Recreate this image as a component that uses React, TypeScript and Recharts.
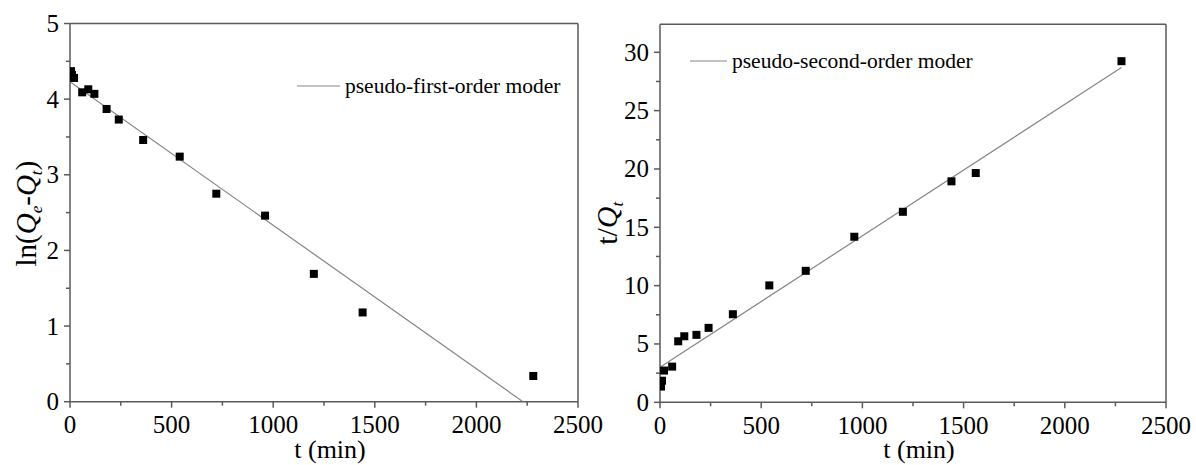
import React from 'react';
import { ScatterChart, Scatter, XAxis, YAxis, ReferenceLine, Label } from 'recharts';

const FONT = '"Liberation Serif", "Times New Roman", Times, serif';
const AXIS = '#5a5a5a';
const FIT = '#858585';

const timeTicks = [0, 250, 500, 750, 1000, 1250, 1500, 1750, 2000, 2250, 2500];
const firstOrderTicks = [0, 0.5, 1, 1.5, 2, 2.5, 3, 3.5, 4, 4.5, 5];
const secondOrderTicks = [0, 2.5, 5, 7.5, 10, 12.5, 15, 17.5, 20, 22.5, 25, 27.5, 30];

const firstOrderT = [5, 10, 20, 60, 90, 120, 180, 240, 360, 540, 720, 960, 1200, 1440, 2280];
const firstOrderLn = [4.37, 4.32, 4.28, 4.09, 4.13, 4.07, 3.87, 3.73, 3.46, 3.24, 2.75, 2.46, 1.69, 1.18, 0.34];
const firstFitT = [0, 2229];
const firstFitLn = [4.23, 0];

const secondOrderT = [5, 10, 20, 60, 90, 120, 180, 240, 360, 540, 720, 960, 1200, 1440, 1560, 2280];
const secondOrderTQ = [1.35, 1.85, 2.72, 3.06, 5.23, 5.66, 5.78, 6.38, 7.55, 10.02, 11.27, 14.19, 16.33, 18.94, 19.65, 29.24];
const secondFitT = [0, 2280];
const secondFitTQ = [3.0, 28.7];

const zip = (xs: number[], ys: number[]) => xs.map((x, i) => ({ x, y: ys[i] }));

const firstPoints = zip(firstOrderT, firstOrderLn);
const firstFit = zip(firstFitT, firstFitLn);
const secondPoints = zip(secondOrderT, secondOrderTQ);
const secondFit = zip(secondFitT, secondFitTQ);

const Square = (props: any) => {
  const { cx, cy } = props;
  if (cx == null || cy == null) return <g />;
  return <rect x={cx - 4} y={cy - 4} width={8} height={8} fill="#000" />;
};

const NoShape = () => <g />;

const makeXTick = (majorStep: number) => (props: any) => {
  const { x, y, payload } = props;
  const v = payload.value;
  const major = Math.abs(v / majorStep - Math.round(v / majorStep)) < 1e-6;
  return (
    <g>
      <line x1={x} y1={y} x2={x} y2={y + (major ? 6 : 4)} stroke={AXIS} strokeWidth={1.5} />
      {major && (
        <text x={x} y={y + 31.5} textAnchor="middle" fontSize={25} fontFamily={FONT} fill="#000">
          {v}
        </text>
      )}
    </g>
  );
};

const makeYTick = (majorStep: number) => (props: any) => {
  const { x, y, payload } = props;
  const v = payload.value;
  const major = Math.abs(v / majorStep - Math.round(v / majorStep)) < 1e-6;
  return (
    <g>
      <line x1={x} y1={y} x2={x - (major ? 6 : 4)} y2={y} stroke={AXIS} strokeWidth={1.5} />
      {major && (
        <text x={x - 11} y={y} dy="0.34em" textAnchor="end" fontSize={25} fontFamily={FONT} fill="#000">
          {v}
        </text>
      )}
    </g>
  );
};

const XTitle = (props: any) => {
  const vb = props.viewBox || {};
  const cx = vb.x + vb.width / 2 + 6;
  return (
    <text x={cx} y={vb.y + 56} textAnchor="middle" fontSize={26} fontFamily={FONT} fill="#000">
      t (min)
    </text>
  );
};

const LnTitle = (props: any) => {
  const vb = props.viewBox || {};
  const bx = 36;
  const cy = vb.y + vb.height / 2 + 1;
  return (
    <text
      x={bx}
      y={cy}
      transform={`rotate(-90 ${bx} ${cy})`}
      textAnchor="middle"
      fontSize={29}
      fontFamily={FONT}
      fill="#000"
    >
      ln(
      <tspan fontStyle="italic">Q</tspan>
      <tspan fontStyle="italic" fontSize={17} dy={6}>e</tspan>
      <tspan dy={-6}>-</tspan>
      <tspan fontStyle="italic">Q</tspan>
      <tspan fontStyle="italic" fontSize={17} dy={6}>t</tspan>
      <tspan dy={-6}>)</tspan>
    </text>
  );
};

const TQTitle = (props: any) => {
  const vb = props.viewBox || {};
  const bx = 27;
  const cy = vb.y + vb.height / 2 + 10;
  return (
    <text
      x={bx}
      y={cy}
      transform={`rotate(-90 ${bx} ${cy})`}
      textAnchor="middle"
      fontSize={30}
      fontFamily={FONT}
      fill="#000"
    >
      t/
      <tspan fontStyle="italic">Q</tspan>
      <tspan fontStyle="italic" fontSize={17} dy={6}>t</tspan>
    </text>
  );
};

const LegendItem = ({ left, top, lineWidth, text }: { left: number; top: number; lineWidth: number; text: string }) => (
  <div
    style={{
      position: 'absolute',
      left,
      top,
      display: 'flex',
      alignItems: 'center',
      fontFamily: FONT,
      fontSize: 21.5,
      lineHeight: '24px',
      color: '#000',
      whiteSpace: 'nowrap',
    }}
  >
    <svg width={lineWidth} height={4} style={{ marginRight: 5 }}>
      <line x1={0} y1={2} x2={lineWidth} y2={2} stroke={FIT} strokeWidth={1.2} />
    </svg>
    <span>{text}</span>
  </div>
);

export default function App() {
  return (
    <div style={{ position: 'absolute', left: 0, top: 0, width: 1196, height: 465, background: '#fff' }}>
      <div style={{ position: 'absolute', left: 0, top: 0, width: 620, height: 465 }}>
        <ScatterChart
          width={620}
          height={465}
          margin={{ top: 23.5, right: 42, bottom: 23.3, left: 10 }}
          style={{ overflow: 'visible' }}
        >
          <XAxis
            type="number"
            dataKey="x"
            domain={[0, 2500]}
            ticks={timeTicks}
            interval={0}
            allowDataOverflow
            height={40}
            tickSize={0}
            tickMargin={0}
            tickLine={false}
            axisLine={{ stroke: AXIS, strokeWidth: 1.5 }}
            tick={makeXTick(500)}
          >
            <Label content={XTitle} />
          </XAxis>
          <YAxis
            type="number"
            dataKey="y"
            domain={[0, 5]}
            ticks={firstOrderTicks}
            interval={0}
            allowDataOverflow
            width={60}
            tickSize={0}
            tickMargin={0}
            tickLine={false}
            axisLine={{ stroke: AXIS, strokeWidth: 1.5 }}
            tick={makeYTick(1)}
          >
            <Label content={LnTitle} />
          </YAxis>
          <ReferenceLine y={5} stroke={AXIS} strokeWidth={1.5} />
          <ReferenceLine x={2500} stroke={AXIS} strokeWidth={1.5} />
          <Scatter
            data={firstFit}
            line={{ stroke: FIT, strokeWidth: 1.2 }}
            shape={NoShape}
            isAnimationActive={false}
            legendType="none"
          />
          <Scatter data={firstPoints} shape={Square} isAnimationActive={false} />
        </ScatterChart>
        <LegendItem left={297} top={74} lineWidth={43} text="pseudo-first-order moder" />
      </div>
      <div style={{ position: 'absolute', left: 590, top: 0, width: 606, height: 465 }}>
        <ScatterChart
          width={606}
          height={465}
          margin={{ top: 24.3, right: 30, bottom: 22.7, left: 10 }}
          style={{ overflow: 'visible' }}
        >
          <XAxis
            type="number"
            dataKey="x"
            domain={[0, 2500]}
            ticks={timeTicks}
            interval={0}
            allowDataOverflow
            height={40}
            tickSize={0}
            tickMargin={0}
            tickLine={false}
            axisLine={{ stroke: AXIS, strokeWidth: 1.5 }}
            tick={makeXTick(500)}
          >
            <Label content={XTitle} />
          </XAxis>
          <YAxis
            type="number"
            dataKey="y"
            domain={[0, 32.4]}
            ticks={secondOrderTicks}
            interval={0}
            allowDataOverflow
            width={60}
            tickSize={0}
            tickMargin={0}
            tickLine={false}
            axisLine={{ stroke: AXIS, strokeWidth: 1.5 }}
            tick={makeYTick(5)}
          >
            <Label content={TQTitle} />
          </YAxis>
          <ReferenceLine y={32.4} stroke={AXIS} strokeWidth={1.5} />
          <ReferenceLine x={2500} stroke={AXIS} strokeWidth={1.5} />
          <Scatter
            data={secondFit}
            line={{ stroke: FIT, strokeWidth: 1.2 }}
            shape={NoShape}
            isAnimationActive={false}
            legendType="none"
          />
          <Scatter data={secondPoints} shape={Square} isAnimationActive={false} />
        </ScatterChart>
        <LegendItem left={100} top={49} lineWidth={37} text="pseudo-second-order moder" />
      </div>
    </div>
  );
}
